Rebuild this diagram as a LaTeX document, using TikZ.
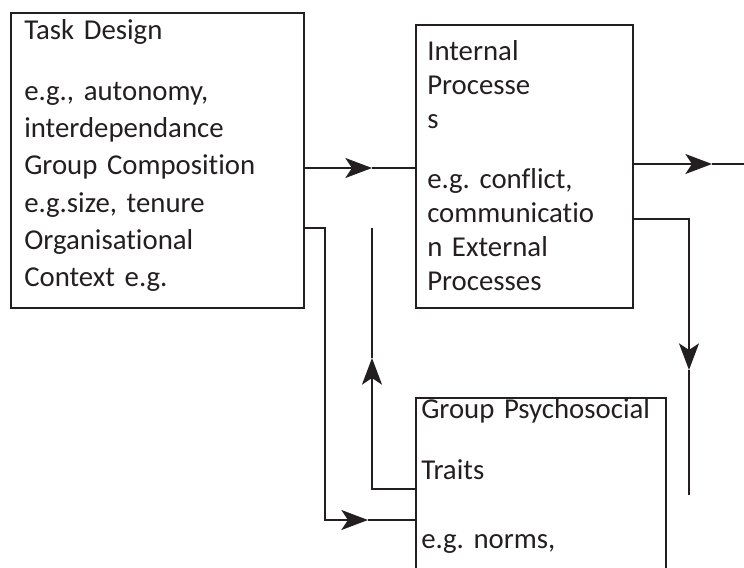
\documentclass[tikz,border=0pt]{standalone}
\usepackage{fontspec}
\setmainfont{Carlito}[Ligatures=NoCommon]
\usetikzlibrary{arrows.meta}
\definecolor{inkgray}{HTML}{231F20}
\frenchspacing
\tikzset{
  box/.style={draw=inkgray, line width=1.5pt, anchor=north west, inner sep=0pt},
  boxtext/.style={anchor=base west, inner sep=0pt, text width=220pt, align=left,
    font=\fontsize{21.6}{#1}\selectfont, text=inkgray},
  link/.style={draw=inkgray, line width=1.5pt},
  tip/.style={link, -{Stealth[length=20pt, width=15pt, inset=5pt]}}
}
\begin{document}
\begin{tikzpicture}[x=0.75pt, y=-0.75pt]
    \useasboundingbox (0,0) rectangle (744,568);
    \clip (0,0) rectangle (744,568);

    % Boxes
    \node[box, minimum width=219.75pt, minimum height=221.25pt] (taskbox) at (10,12) {};
    \node[box, minimum width=162.75pt, minimum height=212.25pt] (procbox) at (415,24) {};
    \node[box, minimum width=187.5pt, minimum height=187.5pt] (traitbox) at (415,397) {};

    % Texts
    \node[boxtext=28pt] (tasktext) at (24,39) {Task Design\\[17.75pt]
      e.g., autonomy,\\ interdependance\\ Group Composition\\
      e.g.size, tenure\\ Organisational\\ Context e.g.};
    \node[boxtext=25.5pt] (proctext) at (427,60) {Internal\\ Processe\\ s\\[19.5pt]
      e.g. conflict,\\ communicatio\\ n External\\ Processes};
    \node[boxtext=25.5pt] (traittext) at (421,418) {Group Psychosocial\\[20.25pt]
      Traits\\[26.25pt] e.g. norms,};

    % Points on the connectors
    \coordinate (tipin) at (372,168);
    \coordinate (tipout) at (712,164);
    \coordinate (outend) at (744,164);
    \coordinate (downtop) at (689,219);
    \coordinate (tipdown) at (689,370);
    \coordinate (downend) at (689,495);
    \coordinate (leftcorner) at (325,228);
    \coordinate (leftbottom) at (325,520);
    \coordinate (tipright) at (368,520);
    \coordinate (backcorner) at (372,489);
    \coordinate (tipup) at (372,358);
    \coordinate (backend) at (372,228);

    % Connectors
    \draw[tip] (taskbox.east |- tipin) -- (tipin);
    \draw[link] (tipin) -- (procbox.west |- tipin);

    \draw[tip] (procbox.east |- tipout) -- (tipout);
    \draw[link] (tipout) -- (outend);

    \draw[tip] (procbox.east |- downtop) -- (downtop) -- (tipdown);
    \draw[link] (tipdown) -- (downend);

    \draw[tip] (taskbox.east |- leftcorner) -- (leftcorner) -- (leftbottom) -- (tipright);
    \draw[link] (tipright) -- (traitbox.west |- tipright);

    \draw[tip] (traitbox.west |- backcorner) -- (backcorner) -- (tipup);
    \draw[link] (tipup) -- (backend);
\end{tikzpicture}
\end{document}
